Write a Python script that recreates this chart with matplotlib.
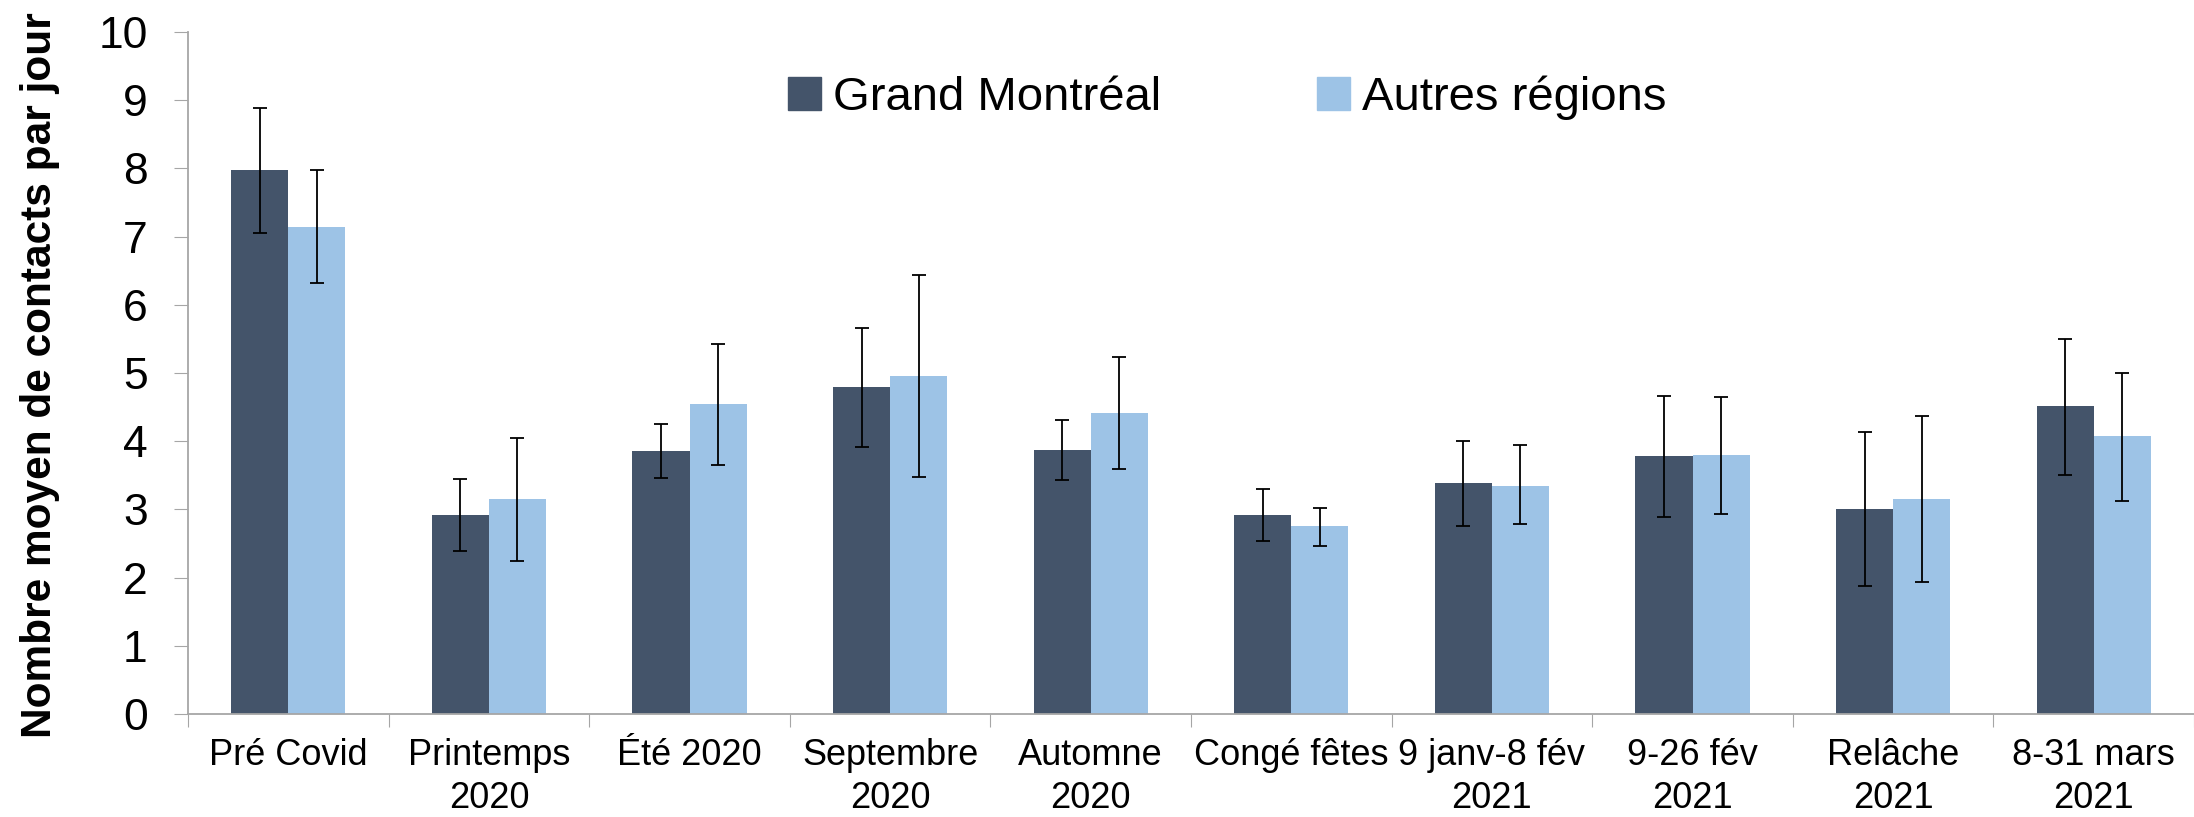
import numpy as np
import matplotlib
matplotlib.use("Agg")
import matplotlib.pyplot as plt
from matplotlib.patches import Patch

# data
periodes = ["Pré Covid", "Printemps\n2020", "Été 2020", "Septembre\n2020", "Automne\n2020",
            "Congé fêtes", "9 janv-8 fév\n2021", "9-26 fév\n2021", "Relâche\n2021", "8-31 mars\n2021"]

grand_mtl = [7.97, 2.92, 3.85, 4.79, 3.87, 2.92, 3.38, 3.78, 3.01, 4.52]
grand_mtl_bas = [7.05, 2.39, 3.46, 3.91, 3.43, 2.54, 2.75, 2.89, 1.87, 3.51]
grand_mtl_haut = [8.89, 3.45, 4.25, 5.66, 4.31, 3.30, 4.01, 4.67, 4.14, 5.50]

autres = [7.14, 3.15, 4.54, 4.95, 4.41, 2.75, 3.35, 3.80, 3.15, 4.07]
autres_bas = [6.32, 2.25, 3.65, 3.47, 3.59, 2.47, 2.78, 2.93, 1.94, 3.12]
autres_haut = [7.97, 4.04, 5.42, 6.44, 5.23, 3.02, 3.95, 4.65, 4.37, 5.00]

c_fonce = "#44546A"
c_clair = "#9DC3E6"
gris = "#A6A6A6"

plt.rcParams['font.family'] = ['Liberation Sans', 'DejaVu Sans']

fig = plt.figure(figsize=(21.94, 8.17), dpi=100)
W, H = 2194, 817
ax = fig.add_axes([188 / W, (H - 714) / H, (2194 - 188) / W, (714 - 32) / H])

x = np.arange(len(periodes)) + 0.5
w = 0.285

err1 = [np.array(grand_mtl) - np.array(grand_mtl_bas), np.array(grand_mtl_haut) - np.array(grand_mtl)]
err2 = [np.array(autres) - np.array(autres_bas), np.array(autres_haut) - np.array(autres)]

ax.bar(x - w / 2, grand_mtl, w, color=c_fonce, label="Grand Montréal")
ax.bar(x + w / 2, autres, w, color=c_clair, label="Autres régions")
ax.errorbar(x - w / 2, grand_mtl, yerr=err1, fmt="none", ecolor="black", elinewidth=1.3, capsize=5, capthick=1.3)
ax.errorbar(x + w / 2, autres, yerr=err2, fmt="none", ecolor="black", elinewidth=1.3, capsize=5, capthick=1.3)

ax.set_ylim(0, 10)
ax.set_xlim(0, 9.955)
ax.set_yticks(range(0, 11))
ax.tick_params(axis="y", labelsize=32, length=10, color=gris, pad=19)

# ticks between categories, labels centred on the categories
ax.set_xticks(np.arange(0, 11))
ax.set_xticklabels([])
ax.tick_params(axis="x", which="major", length=9, color=gris)
ax.set_xticks(x, minor=True)
ax.set_xticklabels(periodes, minor=True, fontsize=26, linespacing=1.3)
ax.tick_params(axis="x", which="minor", length=0, pad=17)

for s in ["top", "right"]:
    ax.spines[s].set_visible(False)
for s in ["left", "bottom"]:
    ax.spines[s].set_color(gris)
    ax.spines[s].set_linewidth(1.3)

ax.set_ylabel("Nombre moyen de contacts par jour", fontsize=30.5, fontweight="bold")
ax.yaxis.set_label_coords(-0.064, 0.497)

poignees = [Patch(color=c_fonce), Patch(color=c_clair)]
ax.legend(poignees, ["Grand Montréal", "Autres régions"], loc="center", bbox_to_anchor=(0.518, 0.903),
          ncol=2, frameon=False, fontsize=34, handlelength=0.7, handleheight=0.7,
          handletextpad=0.25, columnspacing=3.3)

fig.savefig("out.png", dpi=100)
